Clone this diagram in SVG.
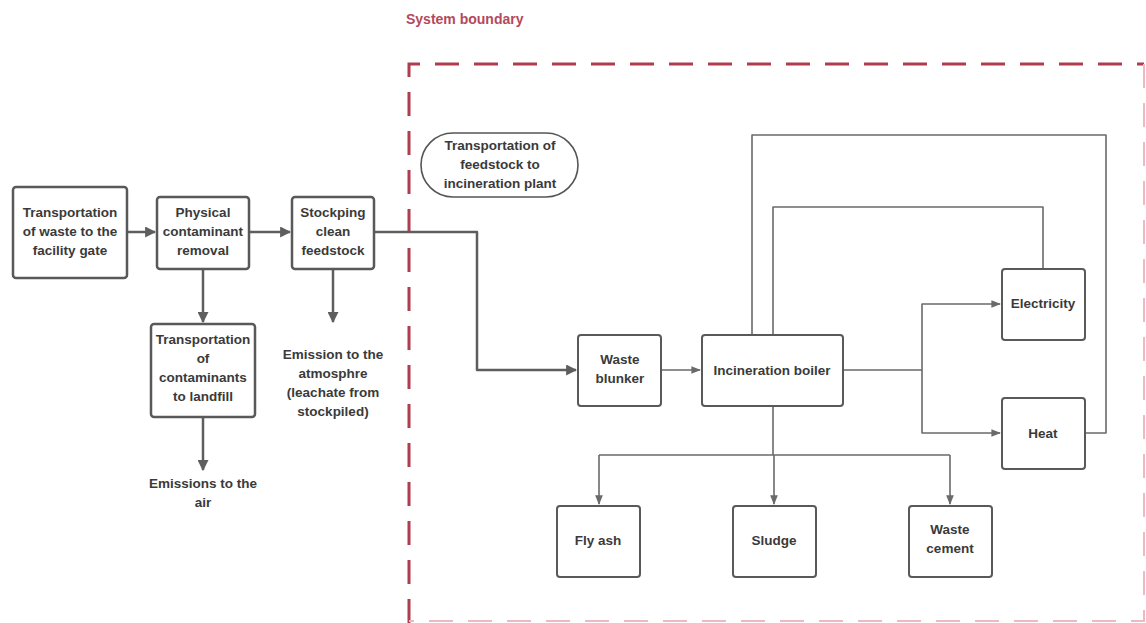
<svg xmlns="http://www.w3.org/2000/svg" width="1146" height="623" viewBox="0 0 1146 623">
<style>
text{font-family:"Liberation Sans",Arial,sans-serif;font-weight:bold;font-size:13.5px;fill:#3a3a3a;text-anchor:middle}
.bx{fill:#fff;stroke:#595959;stroke-width:2.5}
.bx2{fill:#fff;stroke:#595959;stroke-width:2}
.c{fill:none;stroke:#5e5e5e;stroke-width:2.5;stroke-linejoin:round}
.c2{fill:none;stroke:#6a6a6a;stroke-width:1.6;stroke-linejoin:round}
.sb{fill:#b4485c;text-anchor:start;font-size:14px}
</style>
<defs>
<marker id="a" viewBox="0 0 10 10" refX="9" refY="5" markerWidth="4.4" markerHeight="4.4" orient="auto"><path d="M0,0L10,5L0,10z" fill="#5e5e5e"/></marker>
<marker id="b" viewBox="0 0 10 10" refX="9" refY="5" markerWidth="6" markerHeight="6" orient="auto"><path d="M0,1L10,5L0,9z" fill="#6a6a6a"/></marker>
</defs>
<rect width="1146" height="623" fill="#fff"/>
<g id="boundary">
<text class="sb" x="406" y="24">System boundary</text>
<path d="M409,623V64H1144" fill="none" stroke="#b03c50" stroke-width="3" stroke-dasharray="24 15"/>
<path d="M1144,64V621H409" fill="none" stroke="#f0b8c0" stroke-width="2" stroke-dasharray="24 15"/>
</g>
<g id="connectors">
<path class="c" d="M127,232H155" marker-end="url(#a)"/>
<path class="c" d="M249,232H290" marker-end="url(#a)"/>
<path class="c" d="M374,232H477V370H576" marker-end="url(#a)"/>
<path class="c" d="M203,269V322" marker-end="url(#a)"/>
<path class="c" d="M333,269V322" marker-end="url(#a)"/>
<path class="c" d="M203,417V470" marker-end="url(#a)"/>
<path class="c2" d="M661,370H700" marker-end="url(#b)"/>
<path class="c2" d="M752,335V135H1106V433H1085"/>
<path class="c2" d="M773,335V207H1043V269"/>
<path class="c2" d="M843,370H922V304H1000" marker-end="url(#b)"/>
<path class="c2" d="M922,370V433H1000" marker-end="url(#b)"/>
<path class="c2" d="M773,406V455"/>
<path class="c2" d="M599,455H950" />
<path class="c2" d="M599,455V504" marker-end="url(#b)"/>
<path class="c2" d="M774,455V504" marker-end="url(#b)"/>
<path class="c2" d="M950,455V504" marker-end="url(#b)"/>
</g>
<g id="n1"><rect class="bx" x="13" y="187" width="114" height="91" rx="3"/><text x="70" y="217">Transportation</text><text x="70" y="236">of waste to the</text><text x="70" y="255">facility gate</text></g>
<g id="n2"><rect class="bx" x="157" y="197" width="92" height="72" rx="3"/><text x="203" y="217">Physical</text><text x="203" y="236">contaminant</text><text x="203" y="255">removal</text></g>
<g id="n3"><rect class="bx" x="292" y="197" width="82" height="72" rx="3"/><text x="333" y="217">Stockping</text><text x="333" y="236">clean</text><text x="333" y="255">feedstock</text></g>
<g id="n4"><rect class="bx" x="151" y="324" width="104" height="93" rx="3"/><text x="203" y="344">Transportation</text><text x="203" y="363">of</text><text x="203" y="382">contaminants</text><text x="203" y="401">to landfill</text></g>
<g id="n5"><text x="203" y="488">Emissions to the</text><text x="203" y="507">air</text></g>
<g id="n6"><text x="333" y="359">Emission to the</text><text x="333" y="378">atmosphre</text><text x="333" y="397">(leachate from</text><text x="333" y="416">stockpiled)</text></g>
<g id="n7"><rect x="421" y="133" width="157" height="64" rx="32" fill="#fff" stroke="#555" stroke-width="1.6"/><text x="500" y="150">Transportation of</text><text x="500" y="169">feedstock to</text><text x="500" y="188">incineration plant</text></g>
<g id="n8"><rect class="bx2" x="578" y="335" width="83" height="71" rx="3"/><text x="620" y="364">Waste</text><text x="620" y="383">blunker</text></g>
<g id="n9"><rect class="bx2" x="702" y="335" width="141" height="71" rx="3"/><text x="772" y="375">Incineration boiler</text></g>
<g id="n10"><rect class="bx2" x="1002" y="269" width="83" height="71" rx="3"/><text x="1043" y="308">Electricity</text></g>
<g id="n11"><rect class="bx2" x="1002" y="398" width="83" height="71" rx="3"/><text x="1043" y="438">Heat</text></g>
<g id="n12"><rect class="bx2" x="557" y="506" width="83" height="71" rx="3"/><text x="598" y="545">Fly ash</text></g>
<g id="n13"><rect class="bx2" x="733" y="506" width="83" height="71" rx="3"/><text x="774" y="545">Sludge</text></g>
<g id="n14"><rect class="bx2" x="909" y="506" width="83" height="71" rx="3"/><text x="950" y="534">Waste</text><text x="950" y="553">cement</text></g>
</svg>
